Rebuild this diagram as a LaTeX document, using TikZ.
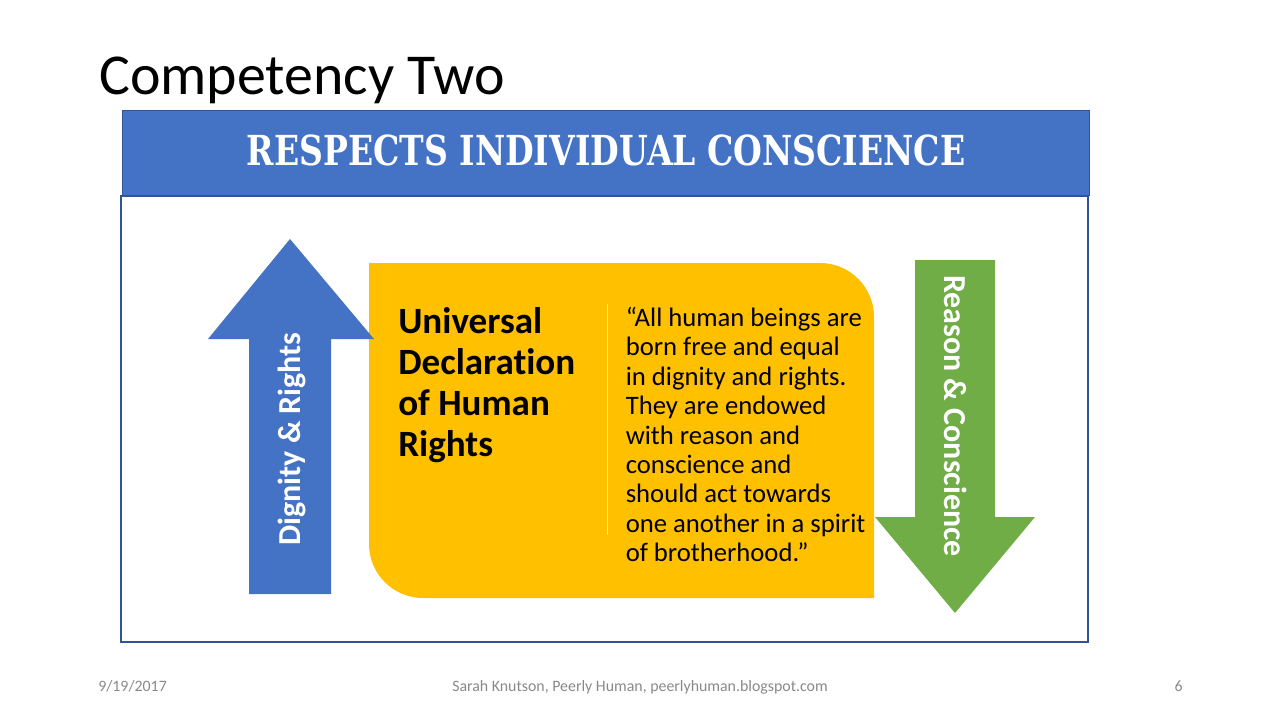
\documentclass[tikz,border=0pt]{standalone}
\usepackage{fontspec}
\setmainfont[Ligatures=NoCommon]{Carlito}
\newfontfamily\headfont{DejaVu Serif}
\definecolor{blueA}{HTML}{4472C4}
\definecolor{blueB}{HTML}{2F5597}
\definecolor{goldA}{HTML}{FFC000}
\definecolor{greenA}{HTML}{70AD47}
\definecolor{grayA}{HTML}{898989}
\begin{document}
\begin{tikzpicture}[x=0.75pt,y=-0.75pt,
  foot/.style={text=grayA,font=\fontsize{11.9}{14}\selectfont,inner sep=0pt},
  arrowtext/.style={text=white,font=\fontsize{24}{28}\selectfont\bfseries,inner sep=0pt},
  body/.style={inner sep=0pt,align=left,anchor=north west}]
\useasboundingbox (0,0) rectangle (1280,720);
\def\ra{54};

\node[inner sep=0pt,anchor=base west,font=\fontsize{43.4}{50}\selectfont] (title) at (99,95) {Competency Two};

\draw[blueB,fill=blueA,line width=0.5pt] (122,110) rectangle (1089,195);
\node[text=white,inner sep=0pt,xscale=0.8,font=\fontsize{31}{36}\selectfont\headfont\bfseries] (head) at (606,150) {RESPECTS INDIVIDUAL CONSCIENCE};
\draw[blueB,line width=1.9pt] (121,196) rectangle (1088,642);

\fill[goldA] (369,263) -- (874-\ra,263) arc[start angle=270,end angle=360,radius=\ra] -- (874,598) -- (369+\ra,598) arc[start angle=90,end angle=180,radius=\ra] -- cycle;

% arrows
\fill[blueA] (290,239) -- (374,339) -- (331,339) -- (331,594) -- (249,594) -- (249,339) -- (208,339) -- cycle;
\node[arrowtext,rotate=90] (dignity) at (291.5,439) {Dignity \& Rights};
\fill[greenA] (915,260) -- (995,260) -- (995,517) -- (1035,517) -- (955,613) -- (875,517) -- (915,517) -- cycle;
\node[arrowtext,rotate=-90] (reason) at (956,416) {Reason \& Conscience};

\node[body,font=\fontsize{27.8}{30.75}\selectfont\bfseries] (udhr) at (398,307) {Universal\\Declaration\\of Human\\Rights};
\draw[white!70!goldA,line width=0.6pt] (607,304) -- (607,535);
\node[body,font=\fontsize{20}{22.05}\selectfont] (quote) at (625.5,307) {“All human beings are\\born free and equal\\in dignity and rights.\\They are endowed\\with reason and\\conscience and\\should act towards\\one another in a spirit\\of brotherhood.”};

\node[foot,anchor=base west] (date) at (98,691) {9/19/2017};
\node[foot,anchor=base] (credit) at (640,691) {Sarah Knutson, Peerly Human, peerlyhuman.blogspot.com};
\node[foot,anchor=base east] (page) at (1183,691) {6};
\end{tikzpicture}
\end{document}
